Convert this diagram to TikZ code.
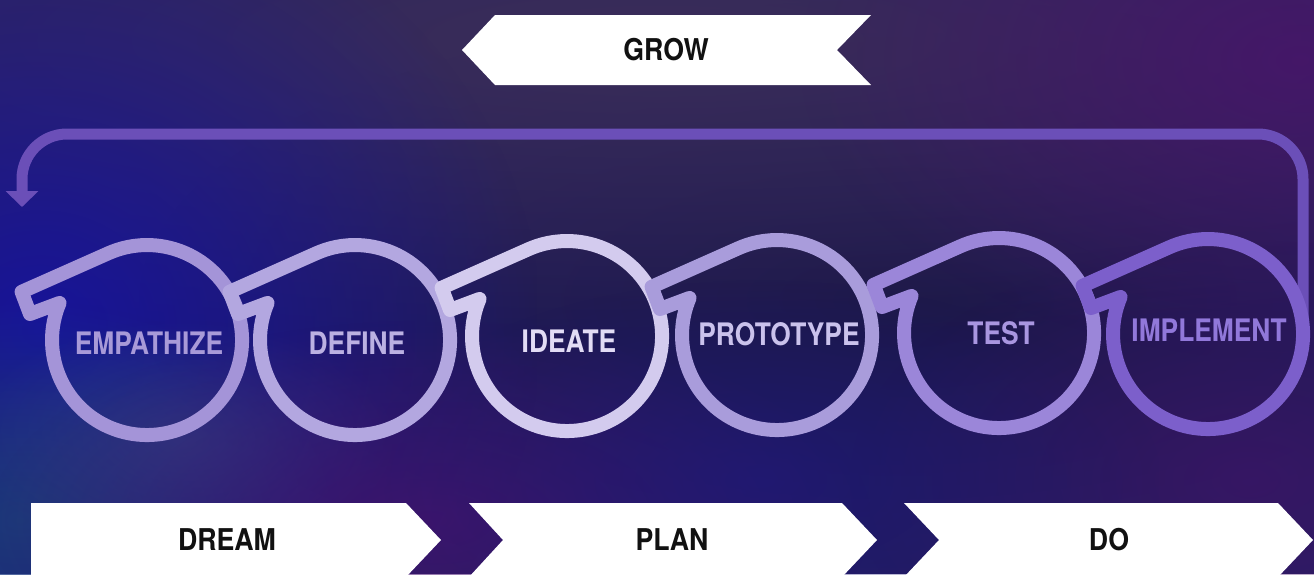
\documentclass[tikz,border=0pt]{standalone}
\usepackage{fontspec}
\setmainfont{TeX Gyre Heros}
\newfontfamily\labfont[FakeStretch=0.85]{TeX Gyre Heros}
\newfontfamily\banfont[FakeStretch=0.89]{TeX Gyre Heros}
\usetikzlibrary{arrows.meta,fadings}
\tikzfading[name=blob, inner color=transparent!0, outer color=transparent!100]
\definecolor{bgbase}{HTML}{241E60}
\definecolor{bgtop}{HTML}{3D2F58}
\definecolor{bgteal}{HTML}{1C4278}
\definecolor{bggray}{HTML}{3A4A7E}
\definecolor{ringA}{HTML}{A494D8}
\definecolor{ringB}{HTML}{B3A7E0}
\definecolor{ringC}{HTML}{D3CBEE}
\definecolor{ringD}{HTML}{A99CDB}
\definecolor{ringE}{HTML}{9B86D9}
\definecolor{ringF}{HTML}{7C5FCB}
\definecolor{txtA}{HTML}{A89AD8}
\definecolor{txtB}{HTML}{BBB1E2}
\definecolor{txtC}{HTML}{E2DCF5}
\definecolor{txtD}{HTML}{CAC2EC}
\definecolor{txtE}{HTML}{A996E0}
\definecolor{txtF}{HTML}{9178DA}
\definecolor{arrowc}{HTML}{6B4FB8}
\definecolor{inkc}{HTML}{111111}
\newcommand\lensring[3]{%
  \draw[line width=14pt, draw=#3, line join=round, line cap=round]
    ({#1-87.4},{#2-37.1}) arc[start angle=157, end angle=474, radius=95pt]
    -- ({#1-125.4},{#2-48.2}) -- ({#1-117},{#2-26}) -- cycle;}
\newcommand\softblob[6]{% color, cx, cy, rx, ry, opacity
  \fill[#1, fill opacity=#6, path fading=blob]
    ({#2-2*#4},{#3-2*#5}) rectangle ({#2+2*#4},{#3+2*#5});}
\tikzset{
  lenslabel/.style={font=\labfont\bfseries\fontsize{31}{31}\selectfont, inner sep=0pt, anchor=center},
  banlabel/.style={font=\banfont\bfseries\fontsize{30}{30}\selectfont, text=inkc, inner sep=0pt, anchor=center},
  banner/.style={fill=white, draw=none}
}
\begin{document}
\begin{tikzpicture}[x=1pt,y=-1pt]
\useasboundingbox (0,0) rectangle (1314,574);
\begin{scope}
\clip (0,0) rectangle (1314,574);
% background
\fill[bgbase] (0,0) rectangle (1314,574);
\softblob{bgbase!55!black}{900}{300}{380}{150}{0.55}
\softblob{bgtop}{660}{40}{750}{150}{0.9}
\softblob{blue!45!bgbase}{40}{330}{250}{230}{0.8}
\softblob{bgteal}{20}{520}{160}{110}{0.8}
\softblob{bggray}{180}{440}{110}{60}{0.5}
\softblob{violet!40!bgbase}{430}{520}{220}{100}{0.7}
\softblob{violet!45!bgbase}{1300}{60}{250}{150}{0.7}
\softblob{violet!35!bgbase}{1250}{480}{200}{120}{0.6}
\softblob{blue!20!bgbase}{760}{480}{200}{100}{0.6}
\end{scope}
% return arrow
\coordinate (rs) at (1303,335);
\coordinate (rc1) at (1303,134);
\coordinate (rc2) at (22,134);
\coordinate (ae) at (22,207);
\draw[arrowc, line width=11pt, rounded corners=45pt, -{Triangle[width=32pt,length=16pt]}]
  (rs) -- (rc1) -- (rc2) -- (ae);
% lenses
\lensring{147}{340}{ringA}
\lensring{355}{340}{ringB}
\lensring{567}{336}{ringC}
\lensring{777}{335}{ringD}
\lensring{999}{333}{ringE}
\lensring{1208}{334}{ringF}
\node[lenslabel, text=txtA] (empathize) at (149,343) {EMPATHIZE};
\node[lenslabel, text=txtB] (define) at (357,343) {DEFINE};
\node[lenslabel, text=txtC] (ideate) at (569,341) {IDEATE};
\node[lenslabel, text=txtD] (prototype) at (779,334) {PROTOTYPE};
\node[lenslabel, text=txtE] (test) at (1001,333) {TEST};
\node[lenslabel, text=txtF] (implement) at (1209,330) {IMPLEMENT};
% banners
\fill[banner] (495,15) -- (871,15) -- (837,50) -- (871,85) -- (495,85) -- (462,50) -- cycle;
\node[banlabel] (grow) at (666,50) {GROW};
\fill[banner] (31,503) -- (406,503) -- (441,540) -- (406,577) -- (31,577) -- cycle;
\node[banlabel] (dream) at (227,540) {DREAM};
\fill[banner] (469,503) -- (842,503) -- (877,540) -- (842,577) -- (469,577) -- (503,540) -- cycle;
\node[banlabel] (plan) at (672,540) {PLAN};
\fill[banner] (904,503) -- (1278,503) -- (1313,540) -- (1278,577) -- (904,577) -- (939,540) -- cycle;
\node[banlabel] (do) at (1109,540) {DO};
\end{tikzpicture}
\end{document}
